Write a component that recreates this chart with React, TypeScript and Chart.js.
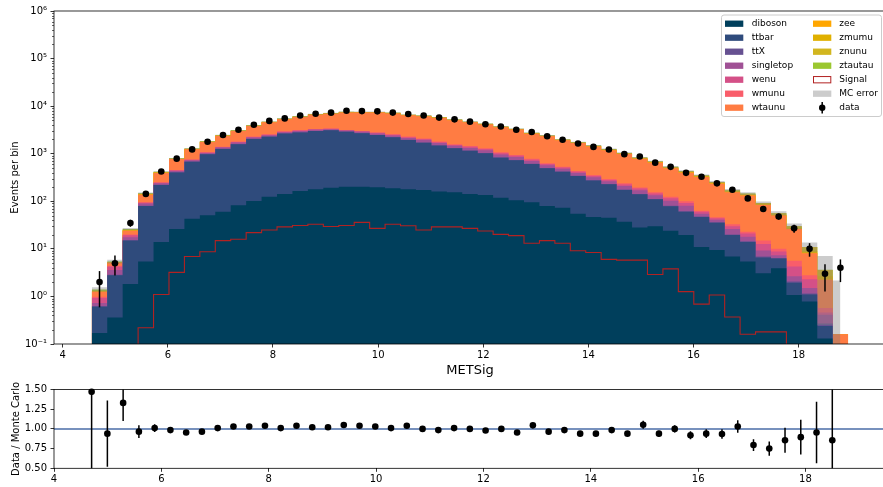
import React, { useEffect, useRef } from "react";
import { Chart, registerables } from "chart.js";
Chart.register(...registerables);
Chart.defaults.font.family = "'DejaVu Sans', sans-serif";
Chart.defaults.font.size = 10;
Chart.defaults.color = "#000";

// ---------------- data ----------------
const binLow = 4.554;
const binWidth = 0.29359;

const diboson = [0.17, 0.36, 1.82, 5.4, 14, 26, 43, 51, 60, 83, 101, 125, 142, 164, 178, 193, 203, 203, 198, 187, 178, 172, 160, 154, 142, 135, 119, 105, 95, 80, 73, 55, 47, 45, 37, 28, 30, 24, 19.6, 11, 9.5, 6.9, 5.4, 3.06, 3.9, 1.07, 0.78, 0.13, 0];
const ttbar = [0.44, 2.44, 13.1, 74.6, 206, 379, 637, 922, 1200, 1497, 1939, 2155, 2508, 2636, 2822, 2907, 2697, 2497, 2272, 2023, 1762, 1528, 1320, 1146, 1008, 885, 707, 623, 513, 413, 344, 285, 227, 183, 136, 112, 80, 55, 40.4, 36, 26, 12.7, 8.6, 3.54, 2.4, 0.88, 0.32, 0.11, 0];
const ttX = [0.02, 0.05, 0.2, 0.6, 1.5, 2.5, 4, 5, 7, 11, 12, 14, 15, 18, 15, 15, 14, 15, 16, 17, 17, 20, 16, 14, 15, 14, 12, 10, 8, 7, 6, 5, 4, 3, 3, 3, 2, 2, 2, 1, 0.6, 0.5, 0.4, 0.3, 0.1, 0.1, 0.05, 0.03, 0];
const singletop = [0.1, 0.75, 2.5, 9, 17, 28, 45, 55, 80, 125, 140, 155, 165, 190, 165, 165, 150, 165, 180, 190, 190, 215, 175, 150, 160, 150, 130, 112, 90, 72, 60, 47, 41, 33, 33, 27, 22, 22, 19, 7, 4.9, 5.9, 3.6, 2.3, 0.9, 0.6, 0.35, 0.14, 0];
const wenu = [0.2, 0.6, 1.8, 3.8, 7.5, 12, 19, 22, 32, 50, 58, 65, 70, 82, 70, 70, 62, 70, 78, 84, 84, 97, 77, 68, 73, 68, 60, 52, 43, 34, 30, 24, 21, 17, 17, 15, 12, 13, 11, 5, 3, 4, 3, 3.5, 1.5, 1.6, 0.8, 0.05, 0];
const wmunu = [0.06, 0.2, 0.6, 1.6, 4, 7.5, 12, 15, 21, 34, 40, 46, 50, 60, 50, 50, 44, 50, 56, 59, 59, 68, 52, 48, 52, 48, 42, 38, 31, 24, 21, 17, 15, 12, 12, 10, 9, 9, 8, 3, 2, 3, 2, 2.3, 1.2, 1.35, 0.5, 0.11, 0];
const wtaunu = [0.27, 0.7, 4.0, 43, 145, 315, 485, 700, 970, 1200, 1540, 2000, 2370, 2770, 3300, 3540, 4210, 4340, 4530, 4480, 4110, 4050, 3860, 3490, 3120, 2820, 2540, 2270, 1860, 1690, 1376, 1237, 1055, 895, 747, 587, 493, 370, 300, 262, 189, 122, 109, 69, 40, 20.4, 5.3, 1.68, 0.16];
const zee = [0, 0.01, 0.2, 0.5, 1, 1, 2, 2, 3, 4, 5, 6, 7, 8, 9, 9, 10, 10, 10, 10, 9, 9, 8, 7, 7, 6, 6, 5, 5, 4, 4, 3, 3, 2, 2, 2, 2, 1, 1, 1, 0.8, 0.5, 0.4, 0.3, 0.2, 0.1, 0.1, 0.05, 0];
const zmumu = [0.02, 0.05, 0.4, 2, 5, 6, 9, 12, 16, 20, 25, 30, 35, 40, 45, 47, 50, 50, 50, 48, 45, 43, 40, 36, 33, 30, 28, 26, 24, 22, 20, 18, 16, 14, 12, 10, 9, 8, 7, 6, 5, 3.5, 3, 2, 1.5, 1, 0.7, 0.35, 0];
const znunu = [0.04, 0.1, 0.6, 4, 12, 15, 22, 32, 45, 56, 68, 80, 92, 102, 116, 124, 130, 130, 130, 124, 120, 114, 110, 98, 92, 88, 82, 77, 71, 65, 58, 52, 45, 41, 37, 33, 28, 24, 20, 17, 13.2, 10.5, 9.2, 5.4, 4.1, 2.8, 2.0, 0.95, 0];
const ztautau = [0.08, 0.14, 0.8, 3.5, 7, 8, 12, 14, 16, 20, 22, 24, 26, 30, 30, 30, 30, 30, 30, 28, 26, 24, 22, 19, 18, 16, 14, 12, 10, 9, 8, 7, 6, 5, 4, 3, 3, 2, 2, 1, 1, 0.5, 0.4, 0.3, 0.2, 0.1, 0.1, 0.05, 0];

const mcError = [0.15, 0.5, 1.5, 5, 10, 15, 22, 30, 40, 55, 70, 80, 95, 105, 115, 120, 125, 125, 125, 120, 110, 105, 98, 90, 82, 76, 68, 62, 55, 50, 44, 40, 36, 32, 29, 26, 24, 20, 18, 16, 13, 11, 10, 7.5, 6, 4.2, 2.6, 3.4, 2.0];

const signal = [0, 0, 0, 0.22, 1.1, 3.2, 6.9, 8.7, 14.9, 15.9, 21.9, 24.9, 29, 31, 33, 29.5, 31, 36, 27, 33, 30.5, 24.9, 29, 29, 27, 23.7, 20.2, 19, 13.1, 14.9, 13.1, 9.1, 8.4, 6.0, 5.8, 5.8, 2.9, 3.8, 1.26, 0.69, 1.07, 0.37, 0.16, 0.18, 0.18, 0, 0, 0, 0];

const dataCounts = [2, 5, 35, 143, 424, 788, 1232, 1780, 2475, 3190, 4070, 4890, 5530, 6340, 6940, 7290, 7980, 7860, 7780, 7320, 6860, 6340, 5750, 5280, 4720, 4170, 3740, 3180, 2870, 2335, 1970, 1645, 1390, 1230, 978, 873, 649, 530, 396, 329, 238, 175, 115, 69, 48, 27, 10, 3, 4];
const dataErr = [1.41, 2.24, 5.9, 12, 20.6, 28, 35.1, 42.2, 49.7, 56.5, 63.8, 69.9, 74.4, 79.6, 83.3, 85.4, 89.3, 88.7, 88.2, 85.6, 82.8, 79.6, 75.8, 72.7, 68.7, 64.6, 61.2, 56.4, 53.6, 48.3, 44.4, 40.6, 37.3, 35.1, 31.3, 29.5, 25.5, 23, 19.9, 18.1, 15.4, 13.2, 10.7, 8.3, 6.9, 5.2, 3.16, 1.73, 2];

const ratio = [1.47, 0.94, 1.33, 0.965, 1.01, 0.985, 0.955, 0.965, 1.01, 1.03, 1.03, 1.04, 1.01, 1.04, 1.02, 1.02, 1.05, 1.04, 1.03, 1.01, 1.04, 1.0, 0.985, 1.01, 1.0, 0.98, 1.0, 0.955, 1.045, 0.965, 0.985, 0.94, 0.94, 0.985, 0.94, 1.052, 0.94, 1.0, 0.92, 0.94, 0.935, 1.03, 0.795, 0.75, 0.856, 0.895, 0.955, 0.856];
const ratioErr = [1.04, 0.42, 0.23, 0.08, 0.05, 0.035, 0.027, 0.023, 0.02, 0.018, 0.016, 0.015, 0.014, 0.013, 0.012, 0.012, 0.012, 0.012, 0.012, 0.012, 0.012, 0.013, 0.013, 0.014, 0.015, 0.015, 0.016, 0.017, 0.018, 0.02, 0.022, 0.023, 0.025, 0.028, 0.03, 0.05, 0.037, 0.045, 0.05, 0.055, 0.06, 0.08, 0.075, 0.09, 0.16, 0.22, 0.39, 0.7];

const xTicks = [4, 6, 8, 10, 12, 14, 16, 18];
const yLogTicks = [0.1, 1, 10, 100, 1000, 10000, 100000, 1000000];
const ratioTicks = [0.5, 0.75, 1.0, 1.25, 1.5];

const layers = [
  { label: "diboson", values: diboson, color: "#003f5c" },
  { label: "ttbar", values: ttbar, color: "#2f4b7c" },
  { label: "ttX", values: ttX, color: "#665191" },
  { label: "singletop", values: singletop, color: "#a05195" },
  { label: "wenu", values: wenu, color: "#d45087" },
  { label: "wmunu", values: wmunu, color: "#f95d6a" },
  { label: "wtaunu", values: wtaunu, color: "#ff7c43" },
  { label: "zee", values: zee, color: "#ffa600" },
  { label: "zmumu", values: zmumu, color: "#e0b000" },
  { label: "znunu", values: znunu, color: "#d2b61f" },
  { label: "ztautau", values: ztautau, color: "#9bc730" },
];

const SIGNAL_COLOR = "#b22222";
const MC_ERR_COLOR = "rgba(128,128,128,0.4)";
const RATIO_LINE = "#4a6da7";
const FLOOR = 1e-4;

// ---------------- helpers ----------------
const N = diboson.length;
const edges = Array.from({ length: N + 1 }, (_, i) => binLow + i * binWidth);
const centers = Array.from({ length: N }, (_, i) => binLow + (i + 0.5) * binWidth);

function stepPoints(vals: number[], endX: number = edges[N]) {
  const pts = vals.map((v, i) => ({ x: edges[i], y: Math.max(v, FLOOR) }));
  pts.push({ x: endX, y: Math.max(vals[N - 1], FLOOR) });
  return pts;
}

const SUP: Record<string, string> = { "-": "\u207b", "0": "\u2070", "1": "\u00b9", "2": "\u00b2", "3": "\u00b3", "4": "\u2074", "5": "\u2075", "6": "\u2076", "7": "\u2077", "8": "\u2078", "9": "\u2079" };
function powLabel(v: number) {
  const e = Math.round(Math.log10(v));
  return "10" + String(e).split("").map((c) => SUP[c]).join("");
}

function errorBarPlugin(pointIndex: number, xs: number[], ys: number[], errs: number[]) {
  return {
    id: "errbars" + pointIndex,
    beforeDatasetDraw(chart: any, args: any) {
      if (args.index !== pointIndex) return;
      const { ctx, chartArea: a, scales } = chart;
      ctx.save();
      ctx.beginPath();
      ctx.rect(a.left, a.top, a.right - a.left, a.bottom - a.top);
      ctx.clip();
      ctx.strokeStyle = "#000";
      ctx.lineWidth = 1.5;
      for (let i = 0; i < ys.length; i++) {
        const y = ys[i];
        if (y == null) continue;
        const lo = y - errs[i];
        const hi = y + errs[i];
        const px = scales.x.getPixelForValue(xs[i]);
        const pLo = lo > 0 || scales.y.type !== "logarithmic" ? scales.y.getPixelForValue(lo) : a.bottom + 20;
        const pHi = scales.y.getPixelForValue(hi);
        ctx.beginPath();
        ctx.moveTo(px, pLo);
        ctx.lineTo(px, pHi);
        ctx.stroke();
      }
      ctx.restore();
    },
  };
}

const framePlugin = {
  id: "frame",
  afterDatasetsDraw(chart: any) {
    const { ctx, chartArea: a } = chart;
    ctx.save();
    ctx.strokeStyle = "#000";
    ctx.lineWidth = 0.8;
    ctx.strokeRect(a.left, a.top, a.right - a.left, a.bottom - a.top);
    const ys = chart.scales.y;
    if (ys.type === "logarithmic") {
      ctx.lineWidth = 0.6;
      for (let e = -1; e < 6; e++) {
        for (let m = 2; m < 10; m++) {
          const p = Math.round(ys.getPixelForValue(m * Math.pow(10, e))) + 0.5;
          ctx.beginPath();
          ctx.moveTo(a.left, p);
          ctx.lineTo(a.left - 2, p);
          ctx.stroke();
        }
      }
    }
    ctx.restore();
  },
};

const legendPlugin = {
  id: "mplLegend",
  afterDraw(chart: any) {
    const ctx = chart.ctx;
    ctx.save();
    const bx = 721.5, by = 15, bw = 160, bh = 101.5, r = 2.5;
    ctx.beginPath();
    ctx.moveTo(bx + r, by);
    ctx.lineTo(bx + bw - r, by);
    ctx.quadraticCurveTo(bx + bw, by, bx + bw, by + r);
    ctx.lineTo(bx + bw, by + bh - r);
    ctx.quadraticCurveTo(bx + bw, by + bh, bx + bw - r, by + bh);
    ctx.lineTo(bx + r, by + bh);
    ctx.quadraticCurveTo(bx, by + bh, bx, by + bh - r);
    ctx.lineTo(bx, by + r);
    ctx.quadraticCurveTo(bx, by, bx + r, by);
    ctx.closePath();
    ctx.fillStyle = "rgba(255,255,255,0.85)";
    ctx.fill();
    ctx.strokeStyle = "#cccccc";
    ctx.lineWidth = 1;
    ctx.stroke();

    ctx.font = "9px 'DejaVu Sans', sans-serif";
    ctx.textBaseline = "middle";
    const rowY = (i: number) => 23.7 + 14 * i;
    const entries: any[] = layers.map((l) => ({ label: l.label, kind: "patch", color: l.color }));
    entries.push({ label: "Signal", kind: "signal" });
    entries.push({ label: "MC error", kind: "mcerr" });
    entries.push({ label: "data", kind: "data" });
    entries.forEach((en, k) => {
      const col = k < 7 ? 0 : 1;
      const row = k < 7 ? k : k - 7;
      const sx = col === 0 ? 725 : 813;
      const tx = col === 0 ? 751.7 : 839.3;
      const y = rowY(row);
      if (en.kind === "patch") {
        ctx.fillStyle = en.color;
        ctx.fillRect(sx, y - 3.15, 18.3, 6.3);
      } else if (en.kind === "signal") {
        ctx.fillStyle = "#fff";
        ctx.fillRect(sx, y - 3.15, 18.3, 6.3);
        ctx.strokeStyle = SIGNAL_COLOR;
        ctx.lineWidth = 1;
        ctx.strokeRect(sx + 0.5, y - 3.15, 17.3, 6.3);
      } else if (en.kind === "mcerr") {
        ctx.fillStyle = MC_ERR_COLOR;
        ctx.fillRect(sx, y - 3.15, 18.3, 6.3);
      } else {
        const cx = sx + 9.2;
        ctx.strokeStyle = "#000";
        ctx.lineWidth = 1.5;
        ctx.beginPath();
        ctx.moveTo(cx, y - 5.8);
        ctx.lineTo(cx, y + 5.8);
        ctx.stroke();
        ctx.fillStyle = "#000";
        ctx.beginPath();
        ctx.arc(cx, y, 3.2, 0, Math.PI * 2);
        ctx.fill();
      }
      ctx.fillStyle = "#000";
      ctx.fillText(en.label, tx, y);
    });
    ctx.restore();
  },
};

function mainConfig(): any {
  const datasets: any[] = [];
  let cum = new Array(N).fill(0);
  layers.forEach((l, k) => {
    cum = cum.map((c, i) => c + l.values[i]);
    datasets.push({
      label: l.label,
      data: stepPoints(cum),
      stepped: "before",
      fill: "start",
      backgroundColor: l.color,
      borderColor: "rgba(0,0,0,0)",
      borderWidth: 0,
      pointRadius: 0,
      order: 20 + k,
    });
  });
  const total = cum;
  const low = total.map((t, i) => t - mcError[i]);
  const high = total.map((t, i) => t + mcError[i]);
  const bandEnd = centers[N - 1];
  datasets.push({
    label: "mcLow",
    data: stepPoints(low, bandEnd),
    stepped: "before",
    fill: false,
    borderColor: "rgba(0,0,0,0)",
    borderWidth: 0,
    pointRadius: 0,
    order: 3,
  });
  datasets.push({
    label: "MC error",
    data: stepPoints(high, bandEnd),
    stepped: "before",
    fill: "-1",
    backgroundColor: MC_ERR_COLOR,
    borderColor: "rgba(0,0,0,0)",
    borderWidth: 0,
    pointRadius: 0,
    order: 3,
  });
  datasets.push({
    label: "Signal",
    data: stepPoints(signal),
    stepped: "before",
    fill: false,
    borderColor: SIGNAL_COLOR,
    borderWidth: 1.1,
    pointRadius: 0,
    order: 2,
  });
  const dataIndex = datasets.length;
  datasets.push({
    label: "data",
    data: dataCounts.map((v, i) => ({ x: centers[i], y: v })),
    showLine: false,
    pointRadius: 3.3,
    pointBackgroundColor: "#000",
    pointBorderWidth: 0,
    borderColor: "#000",
    order: 1,
    clip: false,
  });

  return {
    type: "line",
    data: { datasets },
    options: {
      animation: false,
      responsive: false,
      devicePixelRatio: 1,
      events: [],
      layout: { padding: { top: 11, right: 4, left: 0, bottom: 0 } },
      plugins: { legend: { display: false }, tooltip: { enabled: false } },
      scales: {
        x: {
          type: "linear",
          min: 3.835,
          max: 19.66,
          afterBuildTicks: (s: any) => { s.ticks = xTicks.map((v) => ({ value: v })); },
          afterFit: (s: any) => { s.height = 36; },
          ticks: { padding: 2, autoSkip: false, maxRotation: 0, callback: (v: any) => String(v) },
          grid: { drawOnChartArea: false, drawTicks: true, tickLength: 3.5, tickColor: "#000", tickWidth: 0.8 },
          border: { display: false },
          title: { display: true, text: "METSig", font: { size: 13 }, padding: { top: 0, bottom: 2 } },
        },
        y: {
          type: "logarithmic",
          min: 0.1,
          max: 1e6,
          afterBuildTicks: (s: any) => { s.ticks = yLogTicks.map((v) => ({ value: v })); },
          afterFit: (s: any) => { s.width = 54; },
          ticks: { padding: 3.5, autoSkip: false, callback: (v: any) => powLabel(Number(v)) },
          grid: { drawOnChartArea: false, drawTicks: true, tickLength: 3.5, tickColor: "#000", tickWidth: 0.8 },
          border: { display: false },
          title: { display: true, text: "Events per bin", padding: { top: 9, bottom: 0 } },
        },
      },
    },
    plugins: [errorBarPlugin(dataIndex, centers, dataCounts, dataErr), framePlugin, legendPlugin],
  };
}

function ratioConfig(): any {
  const xs = centers.slice(0, ratio.length);
  const datasets: any[] = [
    {
      label: "one",
      data: [{ x: 3, y: 1 }, { x: 21, y: 1 }],
      borderColor: RATIO_LINE,
      borderWidth: 1.5,
      pointRadius: 0,
      fill: false,
      order: 2,
    },
    {
      label: "ratio",
      data: ratio.map((v, i) => ({ x: xs[i], y: v })),
      showLine: false,
      pointRadius: 3.3,
      pointBackgroundColor: "#000",
      pointBorderWidth: 0,
      borderColor: "#000",
      order: 1,
      clip: false,
    },
  ];
  return {
    type: "line",
    data: { datasets },
    options: {
      animation: false,
      responsive: false,
      devicePixelRatio: 1,
      events: [],
      layout: { padding: { top: 5.7, right: 4, left: 0, bottom: 0 } },
      plugins: { legend: { display: false }, tooltip: { enabled: false } },
      scales: {
        x: {
          type: "linear",
          min: 4,
          max: 19.5,
          afterBuildTicks: (s: any) => { s.ticks = xTicks.map((v) => ({ value: v })); },
          afterFit: (s: any) => { s.height = 18.7; },
          ticks: { padding: 2, autoSkip: false, maxRotation: 0, callback: (v: any) => String(v) },
          grid: { drawOnChartArea: false, drawTicks: true, tickLength: 3.5, tickColor: "#000", tickWidth: 0.8 },
          border: { display: false },
        },
        y: {
          type: "linear",
          min: 0.5,
          max: 1.5,
          afterBuildTicks: (s: any) => { s.ticks = ratioTicks.map((v) => ({ value: v })); },
          afterFit: (s: any) => { s.width = 54; },
          ticks: { padding: 3.5, autoSkip: false, callback: (v: any) => Number(v).toFixed(2) },
          grid: { drawOnChartArea: false, drawTicks: true, tickLength: 3.5, tickColor: "#000", tickWidth: 0.8 },
          border: { display: false },
          title: { display: true, text: "Data / Monte Carlo", padding: { top: 10, bottom: 0 } },
        },
      },
    },
    plugins: [errorBarPlugin(1, xs, ratio, ratioErr), framePlugin],
  };
}

export default function App() {
  const mainRef = useRef<HTMLCanvasElement>(null);
  const ratioRef = useRef<HTMLCanvasElement>(null);
  useEffect(() => {
    const c1 = new Chart(mainRef.current as HTMLCanvasElement, mainConfig());
    const c2 = new Chart(ratioRef.current as HTMLCanvasElement, ratioConfig());
    return () => {
      c1.destroy();
      c2.destroy();
    };
  }, []);
  return (
    <div style={{ position: "fixed", left: 0, top: 0, width: 883, height: 487, overflow: "hidden", background: "#fff" }}>
      <canvas ref={mainRef} width={890} height={380} style={{ position: "absolute", left: 0, top: 0, width: 890, height: 380 }} />
      <canvas ref={ratioRef} width={890} height={107} style={{ position: "absolute", left: 0, top: 380, width: 890, height: 107 }} />
    </div>
  );
}
